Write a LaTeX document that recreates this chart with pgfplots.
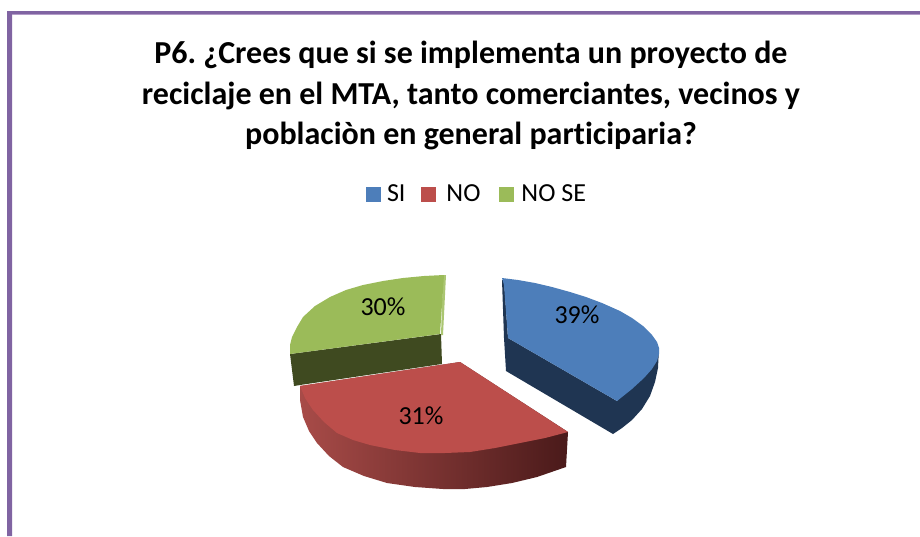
\documentclass[border=0pt]{standalone}
\usepackage{fontspec}
\setmainfont[Ligatures=NoCommon]{Carlito}
\usepackage{pgfplots}
\pgfplotsset{compat=1.18}
\definecolor{frameP}{HTML}{8064A2}
\definecolor{frameL}{HTML}{B39CC8}
\definecolor{blueT}{HTML}{4D7EBA}
\definecolor{blueD}{HTML}{1F3552}
\definecolor{redT}{HTML}{BC4E4B}
\definecolor{greenT}{HTML}{9BBB59}
\definecolor{greenL}{HTML}{ABC672}
\definecolor{greenD}{HTML}{3F4A20}
\definecolor{redA}{HTML}{A84B48}
\definecolor{redB}{HTML}{7D3634}
\definecolor{redC}{HTML}{4A1A1A}
\begin{document}
\frenchspacing
\begin{tikzpicture}
\begin{axis}[
  scale only axis, width=920pt, height=536pt,
  xmin=0, xmax=920, ymin=0, ymax=536, y dir=reverse,
  hide axis, clip=true,
  legend style={at={(axis cs:479,194)},anchor=center,draw=none,fill=none,
    legend columns=3,font=\fontsize{26}{30}\selectfont,
    /tikz/every even column/.style={column sep=10pt},
    nodes={inner xsep=6pt,inner ysep=1pt}},
  legend image code/.code={\fill[#1] (0pt,-7.5pt) rectangle (15pt,7.5pt);},
]
% page background
\addplot[fill=white,draw=none,forget plot] coordinates {(0,0)(920,0)(920,536)(0,536)};
% frame
\addplot[fill=frameP,draw=none,forget plot] coordinates {(7,536)(7,11)(920,11)(920,14)(12,14)(12,536)};
\addplot[fill=frameL,draw=none,forget plot] coordinates {(12,14)(920,14)(920,15)(12,15)};
% dark sides
\addplot[fill=blueD,draw=none,forget plot] coordinates {(502,280)(504,280)(508,338)(617,401)(659,348)(658,368)(655,382)(650,396)(642,409)(632,420)(622,428)(613,434)(506,371)(504,338)};
\addplot[fill=greenD,draw=none,forget plot] coordinates {(441,334)(442,364)(300,385)(294,386)(290,354)};
\addplot[fill=greenL,draw=none,forget plot] coordinates {(443,275)(446,275)(443,335)(441,335)};
\addplot[left color=redA,middle color=redB,right color=redC,draw=none,forget plot] coordinates {(300,386)(300,400)(303,417)(309,431)(317,443)(329,456)(343,467)(364,476)(387,483)(415,487)(443,489)(465,489)(487,487)(512,483)(537,477)(566,467)(568,432)(460,362)};
% top faces
\addplot[fill=blueT,draw=none] coordinates {(502,278)(518,280)(535,283)(552,287)(570,292)(586,297)(602,303)(620,311)(632,318)(643,326)(652,335)(657,342)(659,348)(659,354)(657,361)(652,369)(644,378)(632,389)(617,401)(508,338)(504,285)};
\addplot[fill=redT,draw=none] coordinates {(460,362)(568,432)(545,438)(520,443)(495,448)(470,452)(445,453)(420,453)(395,450)(370,445)(353,440)(337,433)(324,422)(313,410)(305,398)(300,386)};
\addplot[fill=greenT,draw=none] coordinates {(444,275)(440,334)(290,354)(290,345)(292,337)(297,327)(303,317)(315,306)(330,297)(346,290)(363,285)(383,281)(403,278)(424,276)};
\legend{SI,\kern4pt NO\kern3pt,\kern1pt NO SE}
\node[font=\bfseries\fontsize{32}{40.5}\selectfont,align=center] at (axis cs:471,95.5) {P6. ¿Crees que si se implementa un proyecto de\\reciclaje en el MTA, tanto comerciantes, vecinos y\\poblaciòn en general participaria?};
\node[font=\fontsize{26}{30}\selectfont] at (axis cs:577,315) {39\%};
\node[font=\fontsize{26}{30}\selectfont] at (axis cs:421,416) {31\%};
\node[font=\fontsize{26}{30}\selectfont] at (axis cs:383,307) {30\%};
\end{axis}
\end{tikzpicture}
\end{document}
